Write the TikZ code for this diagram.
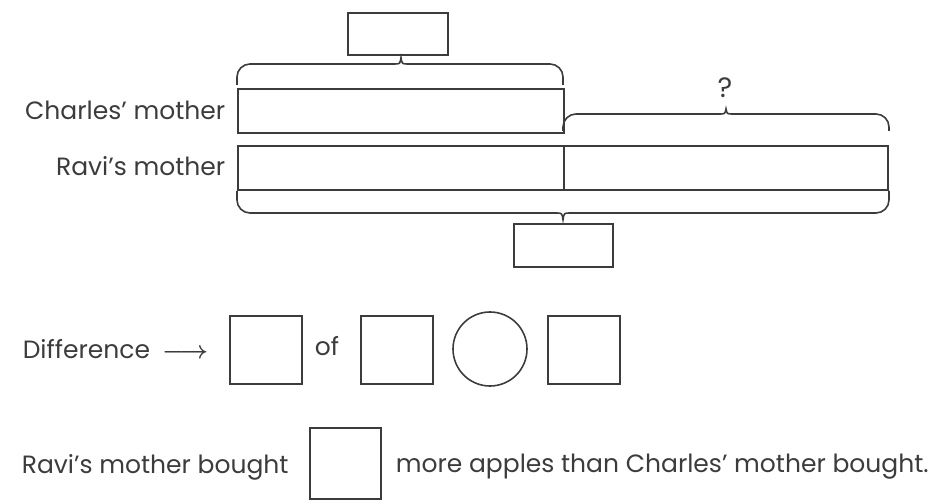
\documentclass[tikz,border=0pt]{standalone}
\usepackage{amsmath, amssymb}
\usepackage{fontspec}
\setmainfont{Poppins}
\usetikzlibrary{
	calc,
}
\definecolor{ink}{HTML}{3C3C3C}

% brace: x1, x2, x of tip, y of ends, y of flat part
\newcommand{\curlybrace}[5]{%
	\pgfmathsetmacro{\ytip}{#5+0.3*(#5-#4)}
	\draw[rounded corners=13] (#1,#4) |- (#3-7,#5);
	\draw (#3-7,#5) .. controls (#3-1,#5) .. (#3,\ytip) .. controls (#3+1,#5) .. (#3+7,#5);
	\draw[rounded corners=13] (#3+7,#5) -| (#2,#4);
}

\begin{document}
\begin{tikzpicture}[x=1pt, y=-1pt, line width=1.6pt, draw=ink, color=ink,
		font=\fontsize{25}{28}\selectfont,
		bar/.style={draw, rectangle, inner sep=0, anchor=north west, minimum height=44},
		blank/.style={draw, rectangle, inner sep=0, anchor=north west},
		oval/.style={draw, circle, inner sep=0, minimum size=74},
		lbl/.style={inner sep=0}]
				\useasboundingbox (0,0) rectangle (944,502);
				% bars
				\node[bar, minimum width=326] (charles) at (237,88) {};
				\node[bar, minimum width=326] (ravi1) at (237,145) {};
				\node[bar, minimum width=324] (ravi2) at (563,145) {};
				\node[lbl, anchor=east] (lcharles) at (226,110) {Charles' mother};
				\node[lbl, anchor=east] (lravi) at (226,166) {Ravi's mother};
				% braces
				\curlybrace{237}{563}{401}{85}{64}
				\curlybrace{563}{889}{726}{131}{114}
				\curlybrace{237}{889}{563}{191}{213}
				\node[lbl, font=\fontsize{28}{30}\selectfont] (ask) at (725,88) {?};
				\node[blank, minimum width=100, minimum height=42] (top) at (347,12) {};
				\node[blank, minimum width=99, minimum height=43] (bottom) at (513,223) {};
				% difference row
				\node[lbl, anchor=west] (diff) at (22,349) {Difference\hspace{12pt}$\boldsymbol{\longrightarrow}$};
				\node[blank, minimum width=72, minimum height=68] (sqa) at (229,315) {};
				\node[lbl] (of) at (327,346) {of};
				\node[blank, minimum width=72, minimum height=68] (sqb) at (360,315) {};
				\node[oval] (op) at (490,349) {};
				\node[blank, minimum width=72, minimum height=68] (sqc) at (547,315) {};
				% answer
				\node[lbl, anchor=west] (ans1) at (21,467) {Ravi's mother bought};
				\node[blank, minimum width=71, minimum height=71] (sqd) at (309,427) {};
				\node[lbl, anchor=west] (ans2) at (395,467) {more apples than Charles' mother bought.};
			\end{tikzpicture}
\end{document}
